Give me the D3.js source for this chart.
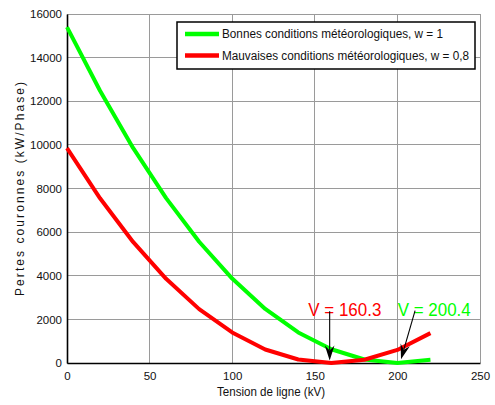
<!DOCTYPE html>
<html>
<head>
<meta charset="utf-8">
<script src="https://cdn.jsdelivr.net/npm/d3@7"></script>
<style>
  html, body { margin: 0; padding: 0; background: #fff; }
  svg { display: block; font-family: "Liberation Sans", Arial, sans-serif; }
</style>
</head>
<body>
<svg id="chart" width="495" height="405"></svg>
<script>
// ---- data ----
const voltages = [0, 20, 40, 60, 80, 100, 120, 140, 160, 180, 200, 220];
const lossGood = [15400, 12480, 9860, 7560, 5560, 3870, 2480, 1400, 630, 160, 0, 150];
const lossBad  = [9850, 7550, 5550, 3860, 2470, 1400, 620, 160, 0, 150, 600, 1370];
const seriesNames = ["Bonnes conditions météorologiques, w = 1", "Mauvaises conditions météorologiques, w = 0,8"];
const seriesColors = ["#00ff00", "#ff0000"];
const xTicks = [0, 50, 100, 150, 200, 250];
const yTicks = [0, 2000, 4000, 6000, 8000, 10000, 12000, 14000, 16000];
const annotLabels = ["V = 160.3", "V = 200.4"];
const annotColors = ["#ff0000", "#00ff00"];
const annotTextPos = [[146.1, 2140], [200.2, 2140]];
const arrowStart = [[159.0, 2370], [210.7, 2400]];
const arrowEnd = [[159.0, 120], [202.2, 170]];

// ---- layout ----
const svg = d3.select("#chart");
const x = d3.scaleLinear().domain([0, 250]).range([67, 480]);
const y = d3.scaleLinear().domain([0, 16000]).range([363, 14]);

// background of plot
svg.append("rect").attr("x", x(0)).attr("y", y(16000))
  .attr("width", x(250) - x(0)).attr("height", y(0) - y(16000)).attr("fill", "#fff");

// grid
const grid = svg.append("g");
grid.selectAll("line.vx").data(xTicks).join("line")
  .attr("x1", d => x(d)).attr("x2", d => x(d))
  .attr("y1", y(0)).attr("y2", y(16000))
  .attr("stroke", "#9a9a9a").attr("stroke-width", 1).attr("shape-rendering", "crispEdges");
grid.selectAll("line.hy").data(yTicks).join("line")
  .attr("y1", d => y(d)).attr("y2", d => y(d))
  .attr("x1", x(0)).attr("x2", x(250))
  .attr("stroke", "#9a9a9a").attr("stroke-width", 1).attr("shape-rendering", "crispEdges");

// axes
const xAxis = d3.axisBottom(x).tickValues(xTicks).tickSize(0).tickPadding(9).tickFormat(d3.format("d"));
const yAxis = d3.axisLeft(y).tickValues(yTicks).tickSize(0).tickPadding(5).tickFormat(d3.format("d"));
const gx = svg.append("g").attr("transform", `translate(0,${y(0)})`).call(xAxis);
const gy = svg.append("g").attr("transform", `translate(${x(0)},0)`).call(yAxis);
[gx, gy].forEach(g => {
  g.select(".domain").attr("stroke", "#000").attr("stroke-width", 1.6);
  g.selectAll("text").attr("font-size", "11.5px").attr("fill", "#111")
    .attr("font-family", "'Liberation Sans', Arial, sans-serif");
});

// axis titles
svg.append("text").attr("x", 271).attr("y", 396).attr("text-anchor", "middle")
  .attr("font-size", "12px").attr("fill", "#111")
  .attr("textLength", 108).attr("lengthAdjust", "spacingAndGlyphs")
  .text("Tension de ligne (kV)");
svg.append("text").attr("transform", "translate(24,189) rotate(-90)")
  .attr("text-anchor", "middle").attr("font-size", "12px").attr("fill", "#111")
  .attr("textLength", 214).attr("lengthAdjust", "spacing")
  .text("Pertes couronnes (kW/Phase)");

// lines
const line = d3.line().x((d, i) => x(voltages[i])).y(d => y(d));
[lossGood, lossBad].forEach((s, k) => {
  svg.append("path").datum(s).attr("d", line)
    .attr("fill", "none").attr("stroke", seriesColors[k]).attr("stroke-width", 4)
    .attr("stroke-linejoin", "round");
});

// annotations
annotLabels.forEach((t, i) => {
  svg.append("text").attr("x", x(annotTextPos[i][0])).attr("y", y(annotTextPos[i][1]))
    .attr("font-size", "19px").attr("fill", annotColors[i])
    .attr("textLength", 73).attr("lengthAdjust", "spacingAndGlyphs")
    .text(t);
  const x0 = x(arrowStart[i][0]), y0 = y(arrowStart[i][1]);
  const x1 = x(arrowEnd[i][0]), y1 = y(arrowEnd[i][1]);
  const dx = x1 - x0, dy = y1 - y0, L = Math.hypot(dx, dy);
  const ux = dx / L, uy = dy / L, px = -uy, py = ux;
  const hl = 15, hw = 4.8, notch = 10;
  svg.append("line").attr("x1", x0).attr("y1", y0)
    .attr("x2", x1 - ux * notch).attr("y2", y1 - uy * notch)
    .attr("stroke", "#000").attr("stroke-width", 1.1);
  const pts = [
    [x1, y1],
    [x1 - ux * hl + px * hw, y1 - uy * hl + py * hw],
    [x1 - ux * notch, y1 - uy * notch],
    [x1 - ux * hl - px * hw, y1 - uy * hl - py * hw]
  ];
  svg.append("path").attr("d", "M" + pts.map(p => p.join(",")).join("L") + "Z")
    .attr("fill", "#000");
});

// legend
const lg = svg.append("g");
lg.append("rect").attr("x", 177).attr("y", 22).attr("width", 298).attr("height", 47)
  .attr("fill", "#fff").attr("stroke", "#000").attr("stroke-width", 1.5);
const legendLens = [221, 247];
seriesNames.forEach((n, i) => {
  const ly = 34 + i * 21.5;
  lg.append("line").attr("x1", 185).attr("x2", 219).attr("y1", ly).attr("y2", ly)
    .attr("stroke", seriesColors[i]).attr("stroke-width", 4.5);
  lg.append("text").attr("x", 222).attr("y", ly + 4).attr("font-size", "12px").attr("fill", "#111")
    .attr("textLength", legendLens[i]).attr("lengthAdjust", "spacingAndGlyphs")
    .text(n);
});
</script>
</body>
</html>
